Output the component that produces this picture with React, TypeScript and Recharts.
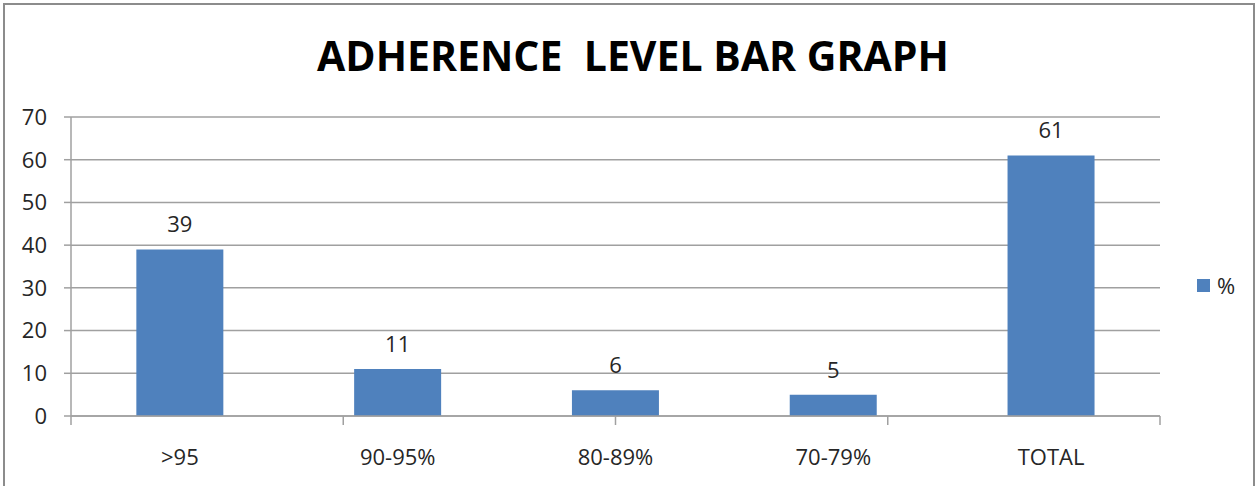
import React from "react";
import {Bar, BarChart, CartesianGrid, LabelList, Legend, XAxis, YAxis} from "recharts";

const categories = [">95", "90-95%", "80-89%", "70-79%", "TOTAL"];
const percentValues = [39, 11, 6, 5, 61];
const yTicks = [0, 10, 20, 30, 40, 50, 60, 70];
const boundaryTicks = [0, 1, 2, 3, 4, 5];

const data = categories.map((name, i) => ({name, pct: percentValues[i]}));

const FONT = "'Open Sans', 'DejaVu Sans', sans-serif";
const GRID = "#a0a0a0";
const BLUE = "#4f81bd";
const TEXT = "#262626";

const LegendBox = () => (
	<div style={{display: "flex", alignItems: "center", fontFamily: FONT, fontSize: 22, color: TEXT}}>
		<span style={{display: "inline-block", width: 13, height: 13, background: BLUE, marginRight: 7}}/>
		<span>%</span>
	</div>
);

// boundary axis only needs its tick marks, not labels
const NoLabel = () => <g/>;

const App = () => {
	return (
		<div style={{position: "absolute", left: 0, top: 0, width: 1255, height: 486, background: "#fff", overflow: "hidden"}}>
			<div style={{position: "absolute", left: 3, top: 3, width: 1248, height: 500, border: "2px solid #8c8c8c"}}/>
			<div style={{
				position: "absolute", left: 0, top: 27, width: 1266, textAlign: "center", lineHeight: "56px",
				fontFamily: FONT, fontWeight: 700, fontSize: 41, color: "#000", whiteSpace: "pre"
			}}>
				{"ADHERENCE  LEVEL BAR GRAPH"}
			</div>
			<BarChart width={1255} height={486} data={data}
					  margin={{top: 117, right: 35, bottom: 0, left: 0}}
					  barCategoryGap="30%">
				<CartesianGrid vertical={false} stroke={GRID} strokeWidth={1.5}/>
				<XAxis xAxisId="a" type="number" domain={[0, 5]} ticks={boundaryTicks} interval={0}
					   height={1} tick={<NoLabel/>} tickSize={9}
					   axisLine={{stroke: GRID, strokeWidth: 1.5}} tickLine={{stroke: GRID, strokeWidth: 1.5}}/>
				<XAxis dataKey="name" xAxisId="b" height={69} tickLine={false} axisLine={false}
					   tickSize={0} tickMargin={32} interval={0}
					   tick={{fill: TEXT, fontSize: 22, fontFamily: FONT}}/>
				<YAxis domain={[0, 70]} ticks={yTicks} width={71} tickSize={7} tickMargin={17}
					   axisLine={{stroke: GRID, strokeWidth: 1.5}} tickLine={{stroke: GRID, strokeWidth: 1.5}}
					   tick={{fill: TEXT, fontSize: 22, fontFamily: FONT}}/>
				<Legend content={<LegendBox/>} layout="vertical" align="right" verticalAlign="middle"
						wrapperStyle={{position: "absolute", left: 1197, top: 270, width: 60}}/>
				<Bar dataKey="pct" xAxisId="b" fill={BLUE} isAnimationActive={false}>
					<LabelList dataKey="pct" position="top" offset={17} fill={TEXT} fontSize={22} fontFamily={FONT}/>
				</Bar>
			</BarChart>
		</div>
	);
};

export default App;
